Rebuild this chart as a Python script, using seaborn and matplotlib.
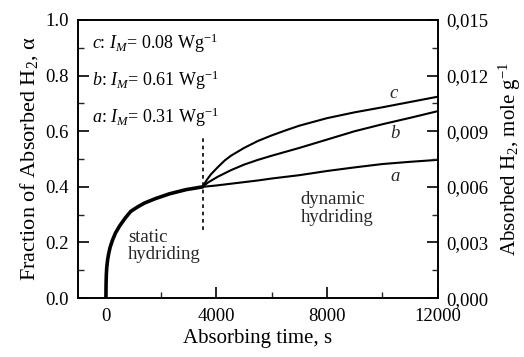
import matplotlib
matplotlib.use("Agg")
import matplotlib.pyplot as plt
from matplotlib.ticker import MultipleLocator, FuncFormatter
import seaborn as sns
import pandas as pd

# static hydriding (common part)
t_static = [0, 5, 15, 30, 60, 100, 150, 240, 350, 500, 700, 900, 1150, 1400,
            1800, 2300, 2900, 3500]
a_static = [0, 0.05, 0.085, 0.11, 0.137, 0.16, 0.182, 0.209, 0.235, 0.26, 0.288,
            0.312, 0.328, 0.342, 0.358, 0.375, 0.39, 0.40]

# dynamic hydriding
t_c = [3500, 3650, 3800, 4040, 4300, 4525, 5000, 5500, 6000, 6500, 7000, 8000,
       9000, 10000, 11000, 12000]
a_c = [0.40, 0.425, 0.445, 0.47, 0.495, 0.512, 0.54, 0.565, 0.585, 0.603, 0.62,
       0.647, 0.668, 0.686, 0.705, 0.724]
t_b = [3500, 3700, 4040, 4525, 5000, 5500, 6000, 6500, 7000, 8000, 9000, 10000,
       11000, 12000]
a_b = [0.40, 0.416, 0.436, 0.46, 0.48, 0.497, 0.512, 0.526, 0.54, 0.57, 0.60,
       0.625, 0.648, 0.672]
t_a = [3500, 4000, 4500, 5000, 5500, 6000, 7000, 8000, 9000, 10000, 11000, 12000]
a_a = [0.40, 0.405, 0.411, 0.417, 0.423, 0.43, 0.442, 0.457, 0.47, 0.482, 0.49,
       0.497]

legend_lines = [r"$c$: $I_M$= 0.08 Wg$^{-1}$",
                r"$b$: $I_M$= 0.61 Wg$^{-1}$",
                r"$a$: $I_M$= 0.31 Wg$^{-1}$"]
right_ticks = [0.0, 0.003, 0.006, 0.009, 0.012, 0.015]

sns.set_theme(style="ticks")
plt.rcParams["font.family"] = ["Liberation Serif", "DejaVu Serif"]
plt.rcParams["mathtext.fontset"] = "custom"
plt.rcParams["mathtext.rm"] = "Liberation Serif"
plt.rcParams["mathtext.it"] = "Liberation Serif:italic"
plt.rcParams["mathtext.bf"] = "Liberation Serif:bold"

fig = plt.figure(figsize=(5.24, 3.57), dpi=100)
ax = fig.add_axes([0.1494, 0.165, 0.6856, 0.779])

df_s = pd.DataFrame({"t": t_static, "alpha": a_static})
sns.lineplot(data=df_s, x="t", y="alpha", ax=ax, color="black", lw=2.6, sort=False)

for tt, vals in [(t_a, a_a), (t_b, a_b), (t_c, a_c)]:
    d = pd.DataFrame({"t": tt, "alpha": vals})
    sns.lineplot(data=d, x="t", y="alpha", ax=ax, color="black", lw=1.5, sort=False)

ax.plot([3500, 3500], [0.245, 0.575], color="black", lw=1.2, ls=(0, (2.2, 2.2)))

ax.set_xlim(-1000, 12000)
ax.set_ylim(0, 1.0)
ax.xaxis.set_major_locator(MultipleLocator(4000))
ax.xaxis.set_minor_locator(MultipleLocator(2000))
ax.yaxis.set_major_locator(MultipleLocator(0.2))
ax.yaxis.set_minor_locator(MultipleLocator(0.1))
ax.yaxis.set_major_formatter(FuncFormatter(lambda v, p: f"{v:.1f}"))
ax.tick_params(axis="both", which="major", direction="in", length=8, width=1.2,
               labelsize=13.5, colors="black", top=False, right=False)
ax.tick_params(axis="y", which="major", pad=7)
ax.tick_params(axis="x", which="major", pad=7)
ax.tick_params(axis="both", which="minor", direction="in", length=4, width=1.0,
               top=False, right=False)
for s in ax.spines.values():
    s.set_color("black")
    s.set_linewidth(1.2)

ax.set_xlabel("Absorbing time, s", fontsize=15, color="black", labelpad=3)
ax.set_ylabel(r"Fraction of Absorbed H$_2$, α", fontsize=16, color="black", labelpad=4)

ax2 = ax.twinx()
ax2.set_ylim(0, 0.015)
ax2.set_yticks(right_ticks)
ax2.yaxis.set_minor_locator(MultipleLocator(0.0015))
ax2.yaxis.set_major_formatter(FuncFormatter(lambda v, p: f"{v:.3f}".replace(".", ",")))
ax2.tick_params(axis="y", which="major", direction="in", length=8, width=1.2,
                labelsize=13.5, colors="black", pad=6.5)
ax2.tick_params(axis="y", which="minor", direction="in", length=4, width=1.0)
ax2.set_ylabel(r"Absorbed H$_2$, mole g$^{-1}$", fontsize=15, color="black", labelpad=6)
for s in ax2.spines.values():
    s.set_color("black")
    s.set_linewidth(1.2)

for txt, yy in zip(legend_lines, [0.917, 0.784, 0.651]):
    ax.text(-500, yy, txt, fontsize=13, ha="left", va="center", color="black")

ax.text(10400, 0.736, "c", style="italic", fontsize=13.5, ha="center", va="center")
ax.text(10450, 0.592, "b", style="italic", fontsize=13.5, ha="center", va="center")
ax.text(10450, 0.436, "a", style="italic", fontsize=13.5, ha="center", va="center")

ax.text(7050, 0.323, "dynamic\nhydriding", fontsize=13.5, ha="left", va="center",
        linespacing=1.05)
ax.text(800, 0.187, "static\nhydriding", fontsize=13.5, ha="left", va="center",
        linespacing=1.05)

fig.savefig("out.png", dpi=100)
